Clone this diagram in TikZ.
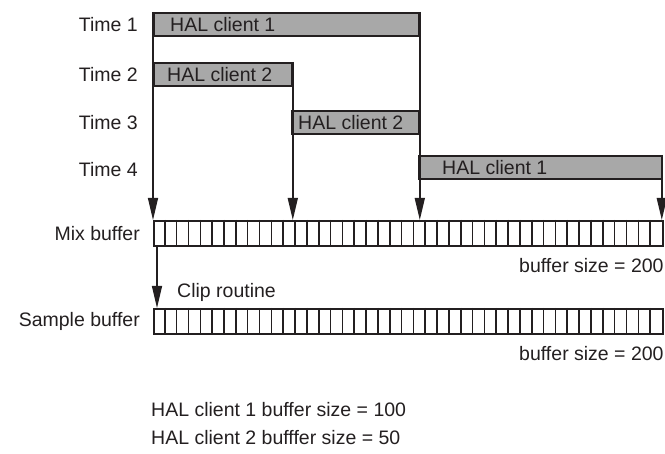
\documentclass[tikz,border=0pt]{standalone}
\usepackage{fontspec}
\setmainfont{Liberation Sans}
\usepackage{xcolor}
\definecolor{bargray}{HTML}{A8A8A8}
\definecolor{inkgray}{HTML}{231F20}
\usepackage{tikz}
\usetikzlibrary{arrows.meta, positioning, calc}

\begin{document}
\begin{tikzpicture}[
            x=1pt, y=-1pt,
            every node/.style={font=\fontsize{19.5}{23}\selectfont, text=inkgray},
            bar/.style={rectangle, draw=inkgray, fill=bargray, line width=1.8pt, minimum height=23pt, inner sep=0pt, anchor=north west},
            buffer/.style={rectangle, draw=inkgray, fill=white, line width=1.8pt, minimum width=509pt, minimum height=25pt, inner sep=0pt, anchor=north west},
            lbl/.style={inner sep=0pt},
            arrow/.style={draw=inkgray, line width=1.4pt, -{Triangle[length=22pt, width=10pt]}}
        ]
        \useasboundingbox (0,0) rectangle (665,454);

        % --- 1. BUFFERS ---
        \node[buffer] (mix) at (153,220) {};
        \node[buffer] (samp) at (153,308) {};
        \foreach \i in {1,...,42} {
            \draw[inkgray, line width=1.6pt] ($(mix.north west)+(\i*11.837,0)$) -- ++(0,25);
            \draw[inkgray, line width=1.6pt] ($(samp.north west)+(\i*11.837,0)$) -- ++(0,25);
        }

        % --- 2. CLIENT BARS ---
        \node[bar, minimum width=265pt] (c1) at (153,12) {};
        \node[bar, minimum width=138pt] (c2) at (153,62) {};
        \node[bar, minimum width=127pt] (c3) at (291,110) {};
        \node[bar, minimum width=243pt] (c4) at (418,155) {};

        \node[lbl, right=17pt of c1.west] (c1txt) {HAL client 1};
        \node[lbl, right=14pt of c2.west] (c2txt) {HAL client 2};
        \node[lbl, right=7pt of c3.west] (c3txt) {HAL client 2};
        \node[lbl, right=24pt of c4.west] (c4txt) {HAL client 1};

        % --- 3. LABELS ---
        \node[lbl, left=15pt of c1.west] (t1) {Time 1};
        \node[lbl, left=15pt of c2.west] (t2) {Time 2};
        \node[lbl, anchor=east] (t3) at (t2.east |- c3.west) {Time 3};
        \node[lbl, anchor=east] (t4) at ([yshift=-2pt]t2.east |- c4.west) {Time 4};
        \node[lbl, left=13pt of mix.west] (lmix) {Mix buffer};
        \node[lbl, left=13pt of samp.west] (lsamp) {Sample buffer};
        \node[lbl, anchor=north east] (sz1) at ([yshift=-11pt]mix.south east) {buffer size = 200};
        \node[lbl, anchor=north east] (sz2) at ([yshift=-11pt]samp.south east) {buffer size = 200};
        \node[lbl, anchor=west] (clip) at (177,292) {Clip routine};
        \node[lbl, anchor=west] (hal1) at (151,410) {HAL client 1 buffer size = 100};
        \node[lbl, anchor=west] (hal2) at (151,438) {HAL client 2 bufffer size = 50};

        % --- 4. ARROWS ---
        \draw[arrow] (c1.north west) -- (c1.north west |- mix.north);
        \draw[arrow] (c2.north east) -- (c2.north east |- mix.north);
        \draw[arrow] (c1.north east) -- (c1.north east |- mix.north);
        \draw[arrow] ([xshift=-1pt]c4.north east) -- ([xshift=-1pt]c4.north east |- mix.north);
        \draw[arrow] ([xshift=4pt]mix.south west) -- ([xshift=4pt]samp.north west);

        \end{tikzpicture}
\end{document}
